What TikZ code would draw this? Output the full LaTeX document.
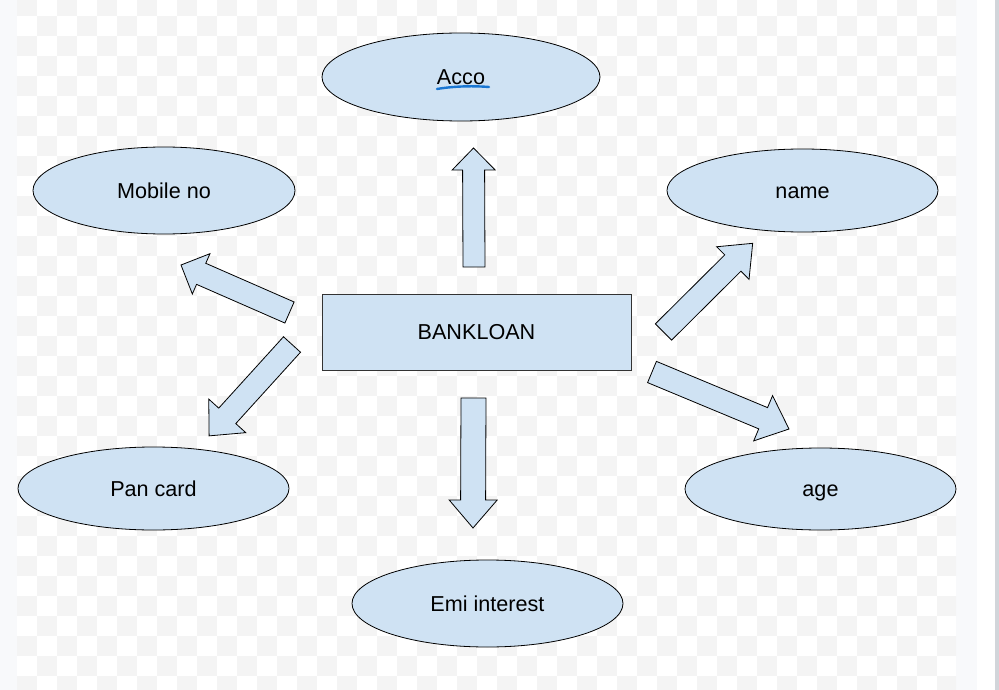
\documentclass[tikz,border=0pt]{standalone}
\usepackage{fontspec}
\setmainfont{Liberation Sans}
\usetikzlibrary{shapes.geometric,calc}
\definecolor{nodefill}{RGB}{207,226,243}
\definecolor{checkgray}{RGB}{244,244,244}
\definecolor{stripc}{RGB}{248,249,251}
\definecolor{borderc}{RGB}{210,213,218}
\definecolor{spellblue}{RGB}{25,118,210}
\tikzset{
  labelfont/.style={font=\fontsize{21.6}{26}\selectfont, text height=15.6pt, text depth=0pt},
  attr/.style={ellipse, draw=black, line width=0.8pt, fill=nodefill, inner sep=0pt, labelfont},
  entity/.style={rectangle, draw=black!80, line width=0.8pt, fill=nodefill, inner sep=0pt, labelfont},
  blockarrow/.style={draw=black, line width=0.8pt, fill=nodefill, line join=miter}
}
\newcommand\barrow[5]{%
  \draw[blockarrow] let \p1=(#1), \p2=(#2), \n1={atan2(\y2-\y1,\x2-\x1)}, \n2={veclen(\x2-\x1,\y2-\y1)} in
    [shift={(\p1)}, rotate=\n1]
    (0,-#3/2) -- (\n2-#5,-#3/2) -- (\n2-#5,-#4/2) -- (\n2,0) -- (\n2-#5,#4/2) -- (\n2-#5,#3/2) -- (0,#3/2) -- cycle;}
\begin{document}
\begin{tikzpicture}[x=1pt,y=-1pt]
\useasboundingbox (0,0) rectangle (999,690);
% background
\fill[white] (0,0) rectangle (999,690);
\fill[stripc] (0,0) rectangle (17,690);
\fill[stripc] (956,0) rectangle (977,690);
\fill[borderc] (995,0) rectangle (999,690);
\begin{scope}
\clip (17,0) rectangle (956,690);
\foreach \j in {0,...,35}{
  \pgfmathsetmacro\off{mod(\j,2)}
  \foreach \i in {0,2,...,46}{
    \fill[checkgray] (17+20*\i+20*\off,-4+20*\j) rectangle +(20,20);
  }
}
\end{scope}
% nodes
\node[attr, minimum width=278pt, minimum height=88pt] (acco) at (461,77) {Acco};
\node[attr, minimum width=262pt, minimum height=87pt] (mobile) at (164,190.5) {Mobile no};
\node[attr, minimum width=271pt, minimum height=83pt] (name) at (802.5,190.5) {name};
\node[attr, minimum width=271pt, minimum height=83pt] (pan) at (153.5,488.5) {Pan card};
\node[attr, minimum width=271pt, minimum height=82pt] (age) at (820.5,489) {age};
\node[attr, minimum width=271pt, minimum height=87pt] (emi) at (487.5,603.5) {Emi interest};
\node[entity, minimum width=309pt, minimum height=76pt] (bank) at (476.5,332) {BANKLOAN};
% spell-check squiggle under Acco
\coordinate (sqA) at (437,89);
\coordinate (sqB) at (489,87);
\draw[spellblue, line width=2.4pt, line cap=round] (sqA) .. controls (452,86.5) and (470,85.5) .. (sqB);
% arrow end points
\coordinate (upT) at (474,267);   \coordinate (upH) at (473.5,148);
\coordinate (dnT) at (473.5,398); \coordinate (dnH) at (473,528);
\coordinate (moT) at (289.5,312.5); \coordinate (moH) at (181,265);
\coordinate (paT) at (292,344.5); \coordinate (paH) at (209,436);
\coordinate (naT) at (663.5,332); \coordinate (naH) at (753,243);
\coordinate (agT) at (652,372);   \coordinate (agH) at (789,429);
\barrow{upT}{upH}{22}{43}{22}
\barrow{dnT}{dnH}{25}{48}{28}
\barrow{moT}{moH}{23}{44}{22}
\barrow{paT}{paH}{23}{50}{27}
\barrow{naT}{naH}{23}{46}{28}
\barrow{agT}{agH}{23}{49}{28}
\end{tikzpicture}
\end{document}
